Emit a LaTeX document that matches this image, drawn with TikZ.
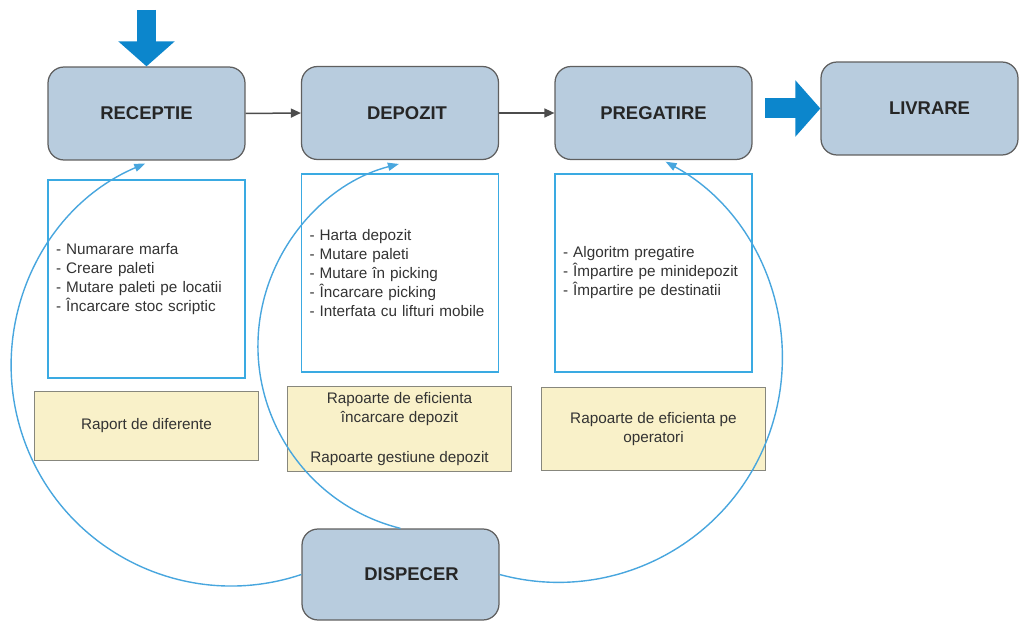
\documentclass[tikz,border=0pt]{standalone}
\usepackage{fontspec}
\setmainfont{Liberation Sans}
\usetikzlibrary{calc}
\usetikzlibrary{arrows.meta}

\definecolor{stagefill}{RGB}{184,204,222}
\definecolor{stagedraw}{RGB}{95,95,95}
\definecolor{listblue}{RGB}{58,170,226}
\definecolor{reportfill}{RGB}{249,241,201}
\definecolor{reportdraw}{RGB}{135,135,125}
\definecolor{flowblue}{RGB}{12,134,204}
\definecolor{loopblue}{RGB}{72,166,222}

\begin{document}
\begin{tikzpicture}[x=0.02cm, y=-0.02cm]
\tikzstyle{stage}=[rectangle,rounded corners=0.32cm,draw=stagedraw,line width=0.25mm,fill=stagefill,minimum width=3.94cm,minimum height=1.86cm,text=black!85,font=\fontsize{10.5}{12}\selectfont\bfseries]
\tikzstyle{tasks}=[rectangle,align=left,draw=listblue,line width=0.3mm,fill=white,text width=3.62cm,inner sep=0.16cm,minimum height=3.96cm,text=black!80,font=\fontsize{8.7}{10.8}\selectfont]
\tikzstyle{report}=[rectangle,align=center,draw=reportdraw,line width=0.2mm,fill=reportfill,minimum width=4.5cm,minimum height=1.68cm,text=black!80,font=\fontsize{8.7}{10.8}\selectfont]
\tikzstyle{flow}=[draw=black!70,line width=0.3mm,-{Triangle[length=0.2cm,width=0.18cm]}]
\tikzstyle{fat}=[draw=flowblue,line width=0.4cm,-{Triangle[length=0.5cm,width=1.1cm]}]
\tikzstyle{feedback}=[draw=loopblue,line width=0.28mm,-{Triangle[length=0.22cm,width=0.16cm]}]
\useasboundingbox (0, 0) rectangle (1019, 621);

\node[stage] at(146.5, 113.5) (rec) {RECEPTIE};
\node[stage] at(400, 113) (dep) {\hspace*{0.28cm}DEPOZIT};
\node[stage] at(653.5, 113) (prep) {PREGATIRE};
\node[stage] at(919.5, 108.5) (livr) {\hspace*{0.4cm}LIVRARE\\[0.1cm]};
\node[stage,minimum height=1.82cm] at(400.5, 574.5) (disp) {\hspace*{0.44cm}DISPECER};

\node[tasks] at(146.5, 279) (recjobs) {- Numarare marfa\\
                                       - Creare paleti\\
                                       - Mutare paleti pe locatii\\
                                       - Încarcare stoc scriptic};
\node[tasks] at(400, 273) (depjobs) {- Harta depozit\\
                                     - Mutare paleti\\
                                     - Mutare în picking\\
                                     - Încarcare picking\\
                                     - Interfata cu lifturi mobile};
\node[tasks] at(653.5, 273) (prepjobs) {- Algoritm pregatire\\
                                        - Împartire pe minidepozit\\
                                        - Împartire pe destinatii};

\node[report,minimum height=1.4cm] at(146.5, 426) (recrep) {Raport de diferente};
\node[report] at(399.5, 429) (deprep) {Rapoarte de eficienta\\
                                       încarcare depozit\\[12pt]
                                       Rapoarte gestiune depozit};
\node[report] at(653.5, 429) (preprep) {Rapoarte de eficienta pe\\
                                        operatori};

\coordinate (in) at(146.5, 10);
\coordinate (out) at(765, 108.5);
\draw[fat] (in) -- (rec.north);
\draw[fat] (out) -- (livr.west);
\draw[flow] (rec.east) -- (dep.west);
\draw[flow] (dep.east) -- (prep.west);

\draw[feedback] (disp.west) arc[start angle=71.4, end angle=247, radius=220];
\draw[feedback] (disp.north) arc[start angle=104, end angle=255.5, radius=188];
\draw[feedback] (disp.east) arc[start angle=105.2, end angle=-61.4, radius=224];
\end{tikzpicture}
\end{document}
